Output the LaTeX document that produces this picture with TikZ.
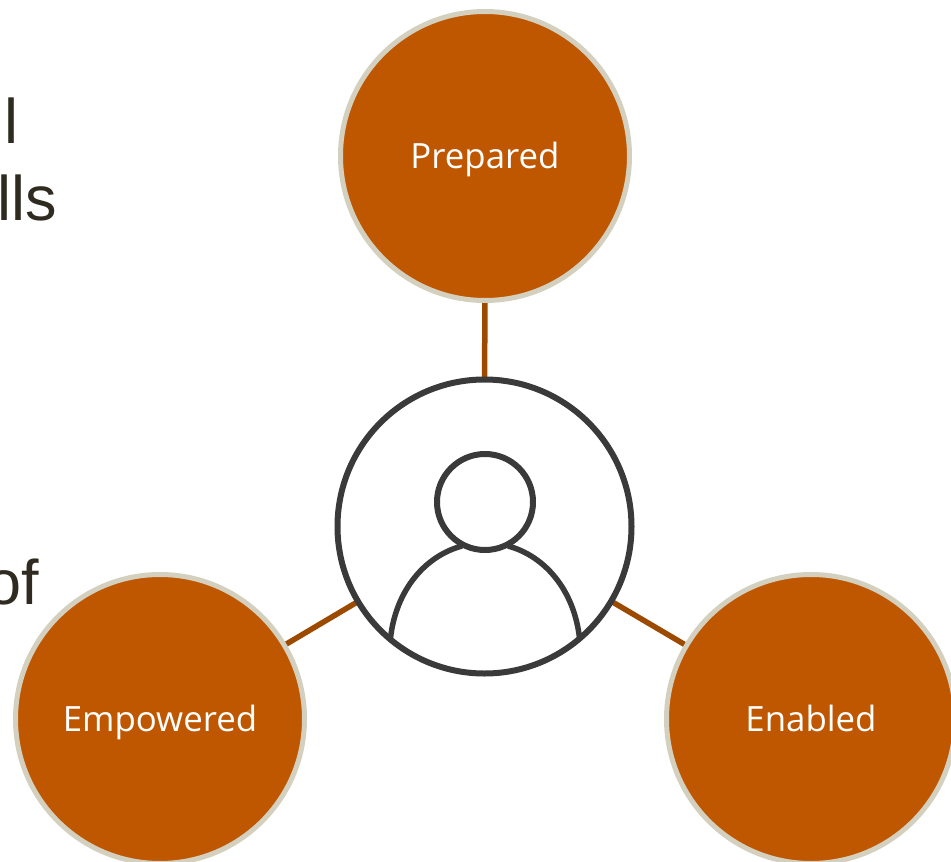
\documentclass[tikz,border=0pt]{standalone}
\usepackage{fontspec}
\setmainfont{Liberation Sans}
\newfontfamily\labelfont{Open Sans}
\usetikzlibrary{backgrounds}
\definecolor{burnt1}{RGB}{191, 87, 0}
\definecolor{rim1}{RGB}{212, 208, 192}
\definecolor{link1}{RGB}{156, 74, 0}
\definecolor{ink1}{RGB}{58, 58, 58}
\definecolor{text1}{RGB}{47, 43, 32}
\tikzset{
  stage/.style={circle, draw=rim1, fill=burnt1, line width=5pt, minimum size=289pt, inner sep=0pt, outer sep=0pt, text=white, text height=27pt, text depth=3pt, font=\labelfont\fontsize{34.8}{40}\selectfont},
  person/.style={circle, draw=ink1, fill=white, line width=6pt, inner sep=0pt, outer sep=0pt},
  link/.style={draw=link1, line width=5.5pt},
  cuttext/.style={anchor=base east, inner sep=0pt, text=text1, font=\fontsize{63}{70}\selectfont}
}
\begin{document}
\begin{tikzpicture}[x=1pt, y=-1pt]
  \useasboundingbox (0,0) rectangle (951,862);

  % Text cut off at the left edge
  \node[cuttext] (lineone) at (18.5, 143) {l};
  \node[cuttext] (linetwo) at (57, 220) {lls};
  \node[cuttext] (linethree) at (39, 604) {of};

  % Three stages
  \node[stage] (prepared) at (485, 156) {Prepared};
  \node[stage] (empowered) at (160, 719) {Empowered};
  \node[stage] (enabled) at (811, 719) {Enabled};

  % Centre
  \node[person, minimum size=294pt] (centre) at (484.5, 526.5) {};
  \node[person, minimum size=96pt] (head) at (485, 502) {};
  \draw[ink1, line width=5.5pt] (390.5, 638) .. controls (396, 590) and (425, 556) .. (462, 546);
  \draw[ink1, line width=5.5pt] (579.5, 638) .. controls (574, 590) and (545, 556) .. (508, 546);

  % Links
  \begin{scope}[on background layer]
    \draw[link] (prepared) -- (centre);
    \draw[link] (empowered) -- (centre);
    \draw[link] (enabled) -- (centre);
  \end{scope}
\end{tikzpicture}
\end{document}
